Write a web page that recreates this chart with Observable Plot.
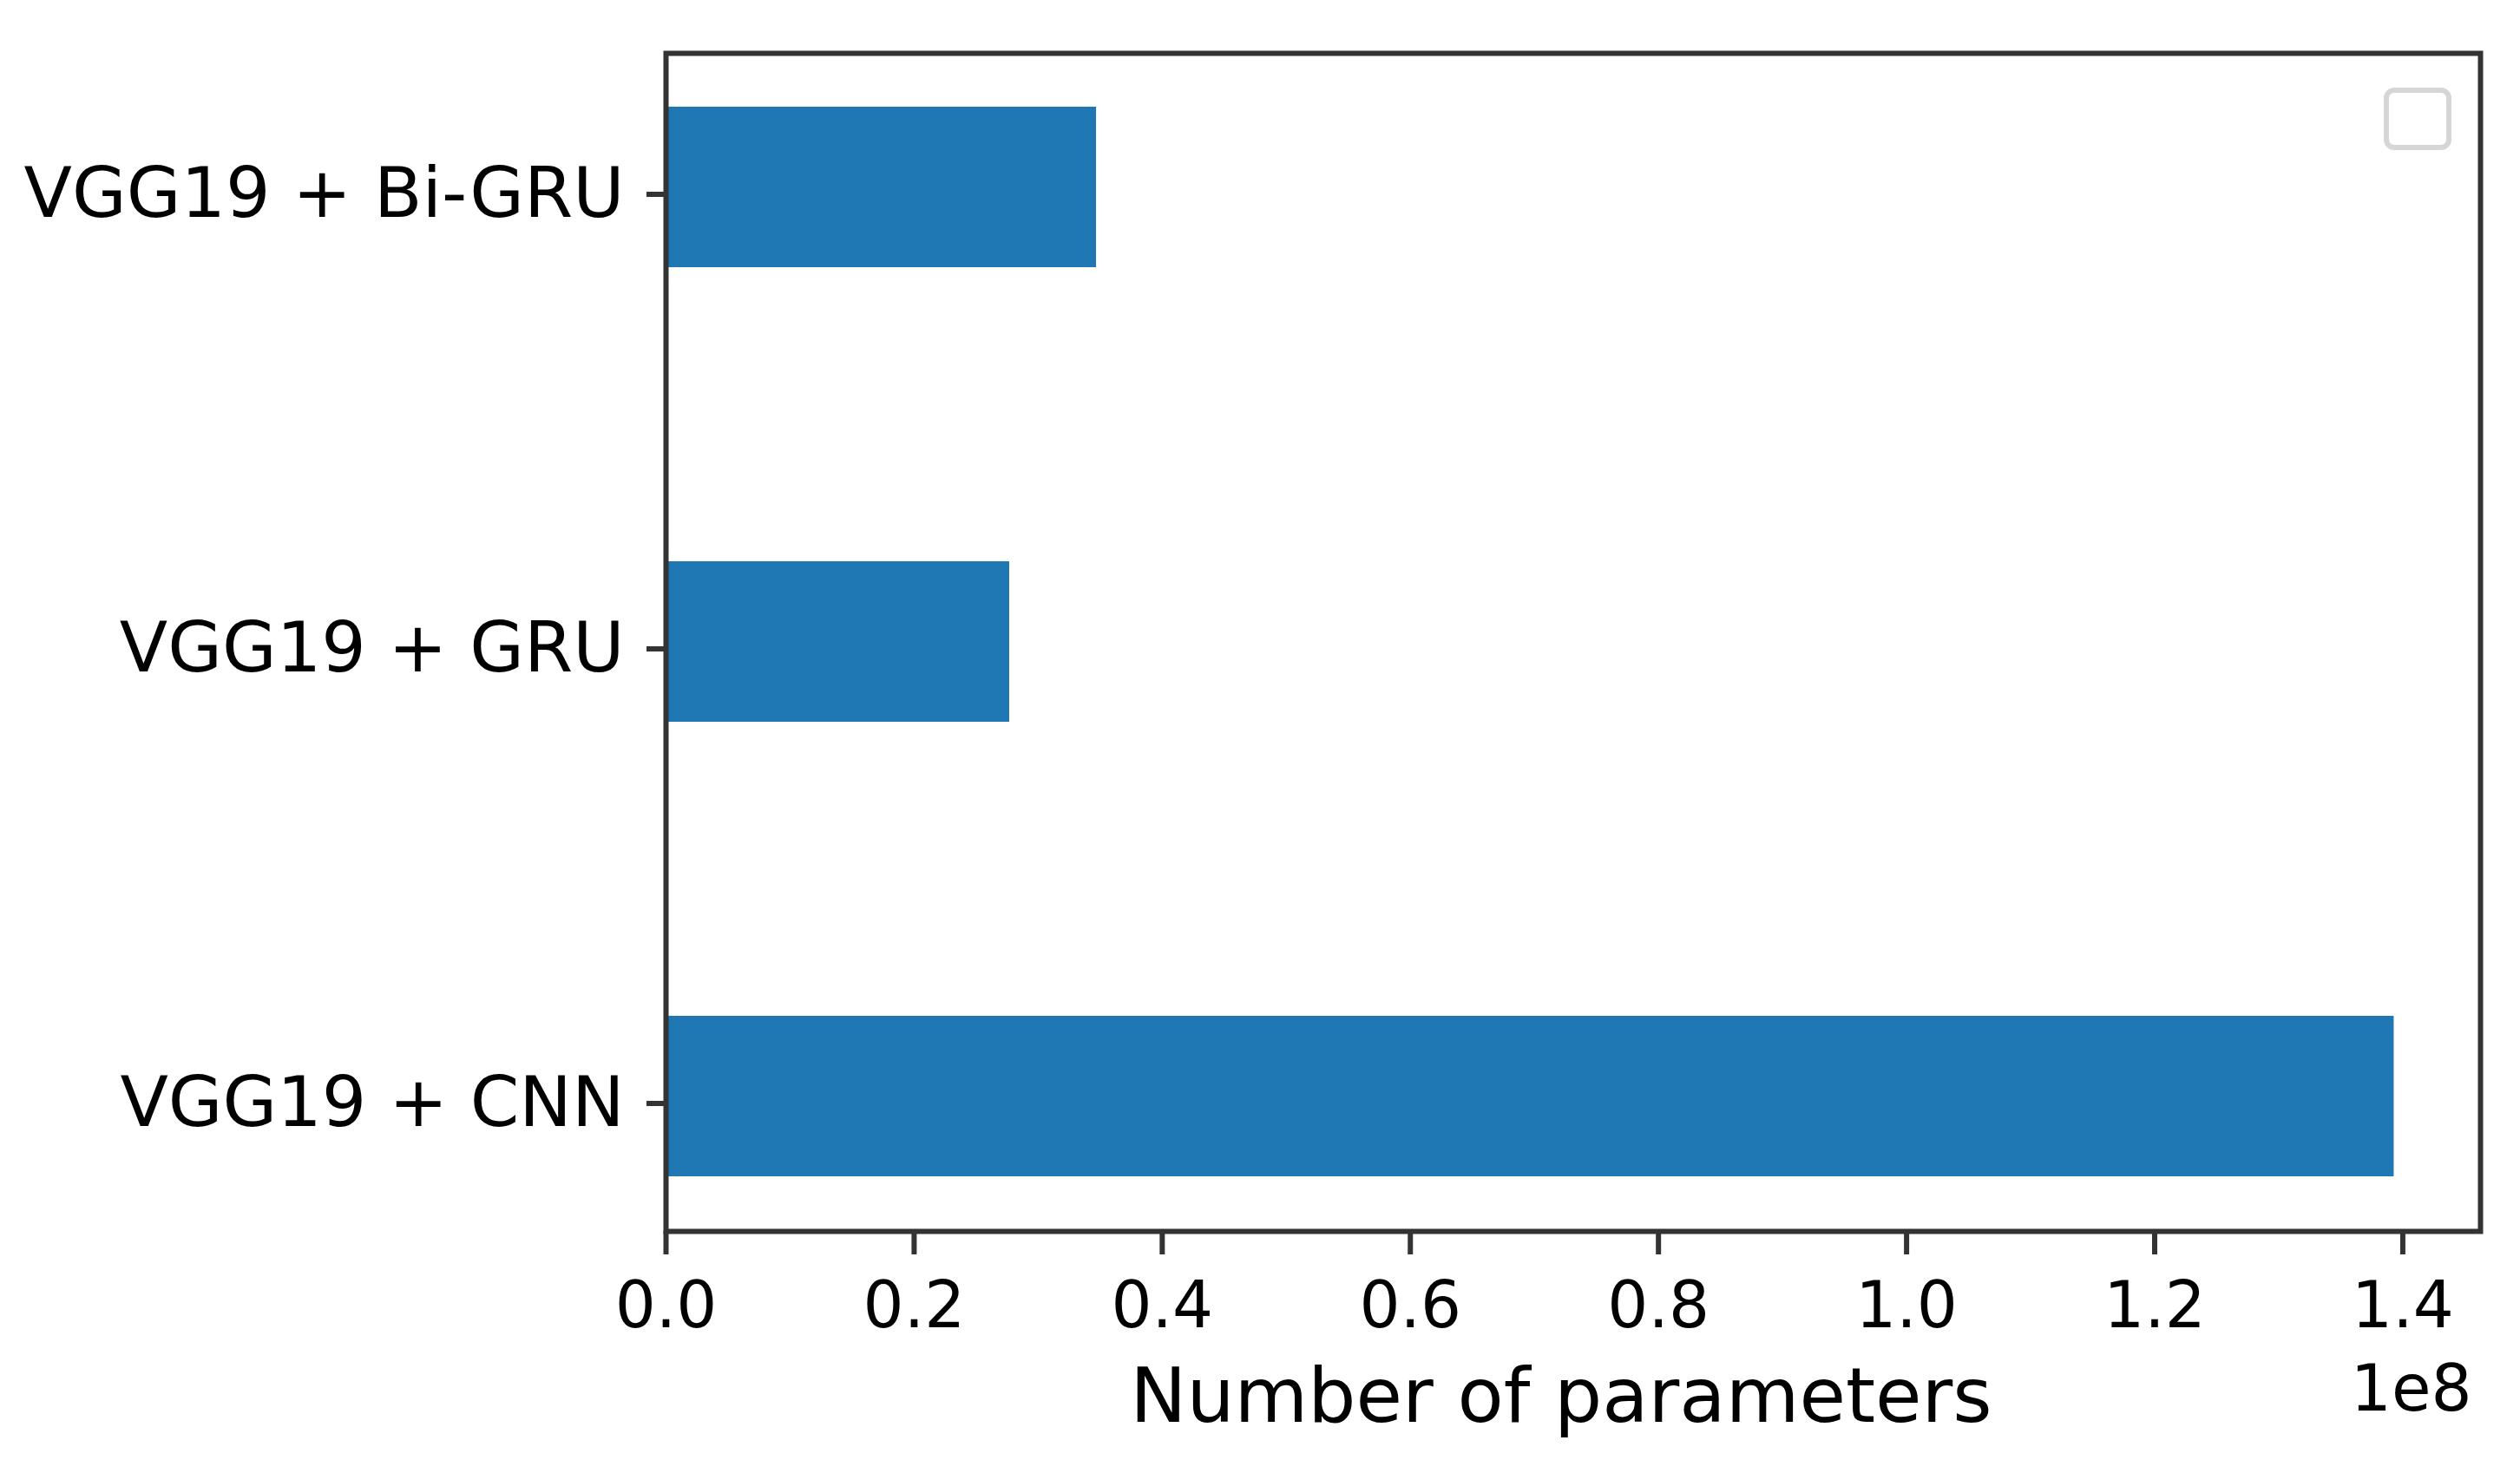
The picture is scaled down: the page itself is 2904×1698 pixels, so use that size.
<!DOCTYPE html>
<html>
<head>
<meta charset="utf-8">
<script src="https://cdn.jsdelivr.net/npm/d3@7"></script>
<script src="https://cdn.jsdelivr.net/npm/@observablehq/plot@0.6"></script>
<style>
  html, body { margin: 0; padding: 0; background: #fff; }
  svg { display: block; }
</style>
</head>
<body>
<div id="chart"></div>
<script>
// Data
const models = ["VGG19 + Bi-GRU", "VGG19 + GRU", "VGG19 + CNN"];
const params = [0.347e8, 0.277e8, 1.393e8];
const xTicks = [0, 0.2e8, 0.4e8, 0.6e8, 0.8e8, 1.0e8, 1.2e8, 1.4e8];
const xLabel = "Number of parameters";
const offsetText = "1e8";

const data = models.map((m, i) => ({model: m, value: params[i]}));
const xMax = d3.max(params) * 1.05;

const W = 2904, H = 1698;
const mL = 767, mR = 46, mT = 61, mB = 279;
const axisColor = "#333";

const chart = Plot.plot({
  width: W,
  height: H,
  marginLeft: mL,
  marginRight: mR,
  marginTop: mT,
  marginBottom: mB,
  style: {fontFamily: "'DejaVu Sans', sans-serif", color: "#000", background: "#fff"},
  x: {domain: [0, xMax]},
  y: {domain: models, paddingInner: 0.646, paddingOuter: 0.1166},
  marks: [
    Plot.barX(data, {x: "value", y: "model", fill: "#1f77b4"}),
    Plot.axisX({
      ticks: xTicks,
      tickFormat: d => (d / 1e8).toFixed(1),
      tickSize: 27,
      tickPadding: 31,
      strokeWidth: 6,
      stroke: axisColor,
      fontSize: 74,
      fill: "#000",
      label: null
    }),
    Plot.axisY({
      tickSize: 22,
      tickPadding: 26,
      strokeWidth: 6,
      stroke: axisColor,
      fontSize: 81,
      fill: "#000",
      dy: 8,
      label: null
    }),
    Plot.frame({stroke: axisColor, strokeWidth: 6}),
    Plot.text([xLabel], {frameAnchor: "bottom", dx: -14, dy: 192, fontSize: 87, fill: "#000", lineAnchor: "middle"}),
    Plot.text([offsetText], {frameAnchor: "bottom-right", textAnchor: "end", dx: -10, dy: 183, fontSize: 74, fill: "#000", lineAnchor: "middle"})
  ]
});

// Empty legend frame (as in the source, upper right)
const xs = chart.scale("x");
const frameRight = xs.range[1];
const frameTop = mT;
d3.select(chart).append("rect")
  .attr("x", frameRight - 36 - 72)
  .attr("y", frameTop + 43)
  .attr("width", 72)
  .attr("height", 66)
  .attr("rx", 9)
  .attr("fill", "#fff")
  .attr("stroke", "#d6d6d6")
  .attr("stroke-width", 6);

document.getElementById("chart").appendChild(chart);
</script>
</body>
</html>
